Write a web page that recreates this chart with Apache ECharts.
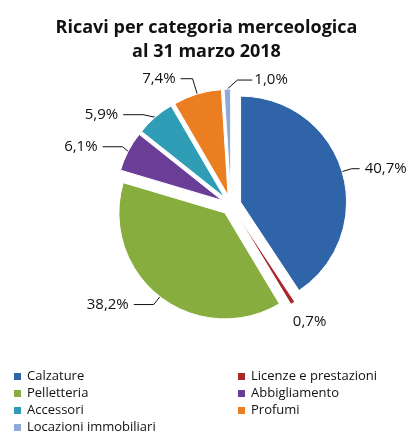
<!DOCTYPE html>
<html>
<head>
<meta charset="utf-8">
<script src="https://cdn.jsdelivr.net/npm/echarts@6/dist/echarts.min.js"></script>
<style>
  html, body { margin: 0; padding: 0; background: #fff; }
  #chart { width: 413px; height: 439px; }
</style>
</head>
<body>
<div id="chart"></div>
<script>
// categorie e quote (%)
const categories = ['Calzature', 'Licenze e prestazioni', 'Pelletteria', 'Abbigliamento', 'Accessori', 'Profumi', 'Locazioni immobiliari'];
const shares = [40.7, 0.7, 38.2, 6.1, 5.9, 7.4, 1.0];
const colors = ['#2f64a8', '#a8292b', '#86ad3e', '#6a3d96', '#2f9db6', '#ec7e22', '#8eaadb'];
const legendLeft = ['Calzature', 'Pelletteria', 'Accessori', 'Locazioni immobiliari'];
const legendRight = ['Licenze e prestazioni', 'Abbigliamento', 'Profumi'];

const font = 'Open Sans';

var myChart = echarts.init(document.getElementById('chart'));

const legendCommon = {
    orient: 'vertical',
    top: 368,
    height: 100,
    padding: 0,
    itemWidth: 9,
    itemHeight: 9,
    itemGap: 0,
    icon: 'rect',
    selectedMode: false,
    textStyle: { fontFamily: font, fontSize: 13, color: '#111', lineHeight: 17 }
};

// lunghezze linee guida per alcune fette
const lineOverride = {
    0: { length: 10, length2: 8 },
    1: { show: false },
    5: { length: 16, length2: 12 }
};

myChart.setOption({
    color: colors,
    title: {
        text: 'Ricavi per categoria merceologica\nal 31 marzo 2018',
        left: 'center',
        top: 11,
        textStyle: { fontFamily: font, fontSize: 18, fontWeight: 'bold', color: '#111', lineHeight: 24 }
    },
    legend: [
        Object.assign({ left: 12, data: legendLeft }, legendCommon),
        Object.assign({ left: 236, data: legendRight }, legendCommon)
    ],
    series: [{
        type: 'pie',
        center: [231, 205],
        radius: [0, 106],
        startAngle: 90,
        clockwise: true,
        selectedMode: 'multiple',
        selectedOffset: 10,
        animation: false,
        label: {
            formatter: p => p.value.toFixed(1).replace('.', ',') + '%',
            fontFamily: font,
            fontSize: 15,
            color: '#111',
            overflow: 'none'
        },
        labelLine: { length: 10, length2: 20, lineStyle: { color: '#111', width: 1 } },
        labelLayout: function (p) {
            const p0 = p.labelLinePoints && p.labelLinePoints[0];
            const r = p.labelRect;
            if (!p0) return {};
            if (p.dataIndex === 6) {
                // 1,0%: etichetta a destra della fetta
                return {
                    dx: (p0[0] + 27) - r.x,
                    dy: (p0[1] - 9) - (r.y + r.height / 2),
                    labelLinePoints: [p0, [p0[0] + 10, p0[1] - 9], [p0[0] + 25, p0[1] - 9]]
                };
            }
            if (p.dataIndex === 1) {
                // 0,7%: sotto la punta della fetta
                return {
                    dx: p0[0] - r.x,
                    dy: (p0[1] + 19) - (r.y + r.height / 2)
                };
            }
            return {};
        },
        itemStyle: { borderColor: '#fff', borderWidth: 1 },
        emphasis: { disabled: true },
        data: categories.map((c, i) => ({
            name: c,
            value: shares[i],
            selected: true,
            labelLine: lineOverride[i] || {}
        }))
    }]
});
</script>
</body>
</html>
